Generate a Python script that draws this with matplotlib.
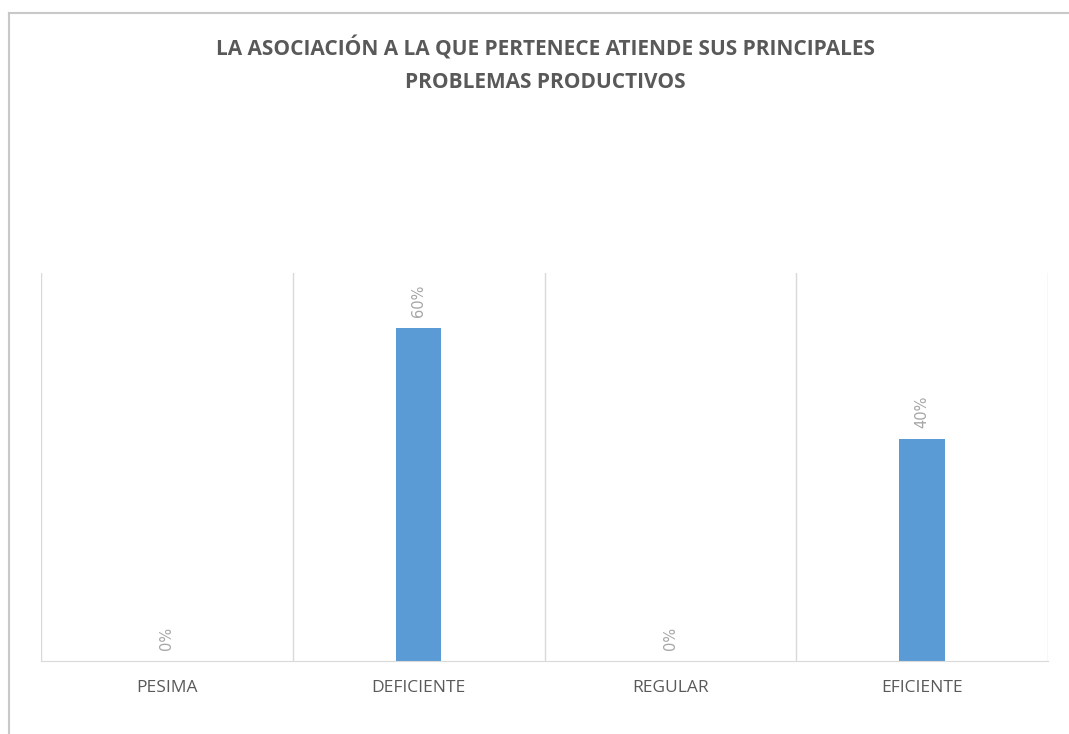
import matplotlib.pyplot as plt
import numpy as np

categories = ["PESIMA", "DEFICIENTE", "REGULAR", "EFICIENTE"]
values = [0.0, 0.60, 0.0, 0.40]
labels = ["0%", "60%", "0%", "40%"]

title = "LA ASOCIACIÓN A LA QUE PERTENECE ATIENDE SUS PRINCIPALES\nPROBLEMAS PRODUCTIVOS"

fig = plt.figure(figsize=(10.69, 7.34), dpi=100)
W, H = 1069, 734

# outer chart border (left + top only visible)
fig.add_artist(plt.Line2D([9 / W, 9 / W], [0, 1 - 13 / H], transform=fig.transFigure,
                          color="#c8c8c8", lw=1.5))
fig.add_artist(plt.Line2D([9 / W, 1], [1 - 13 / H, 1 - 13 / H], transform=fig.transFigure,
                          color="#c8c8c8", lw=1.5))

ax = fig.add_axes([41 / W, 1 - 661 / H, (1048 - 41) / W, (661 - 273) / H])
x = np.arange(len(categories))
ax.bar(x, values, width=0.18, color="#5b9bd5")
ax.set_xlim(-0.5, len(categories) - 0.5)
ax.set_ylim(0, 0.7)

for xi, v, lab in zip(x, values, labels):
    ax.text(xi, v + 0.02, lab, rotation=90, ha="center", va="bottom",
            fontsize=10.5, color="#a6a6a6")

# vertical gridlines between categories
for b in np.arange(-0.5, len(categories), 1.0):
    ax.axvline(b, color="#d9d9d9", lw=1)

for s in ["top", "right", "left"]:
    ax.spines[s].set_visible(False)
ax.spines["bottom"].set_color("#d9d9d9")
ax.set_yticks([])
ax.set_xticks(x)
ax.set_xticklabels(categories, fontsize=12.5, color="#595959")
ax.tick_params(axis="x", length=0, pad=14)
for t in ax.get_xticklabels():
    t.set_fontfamily("Open Sans")

fig.text(545 / W, 1 - 65 / H, title, ha="center", va="center", fontsize=15,
         fontweight="bold", color="#595959", family="Open Sans", linespacing=1.75)

fig.savefig("out.png", dpi=100)
